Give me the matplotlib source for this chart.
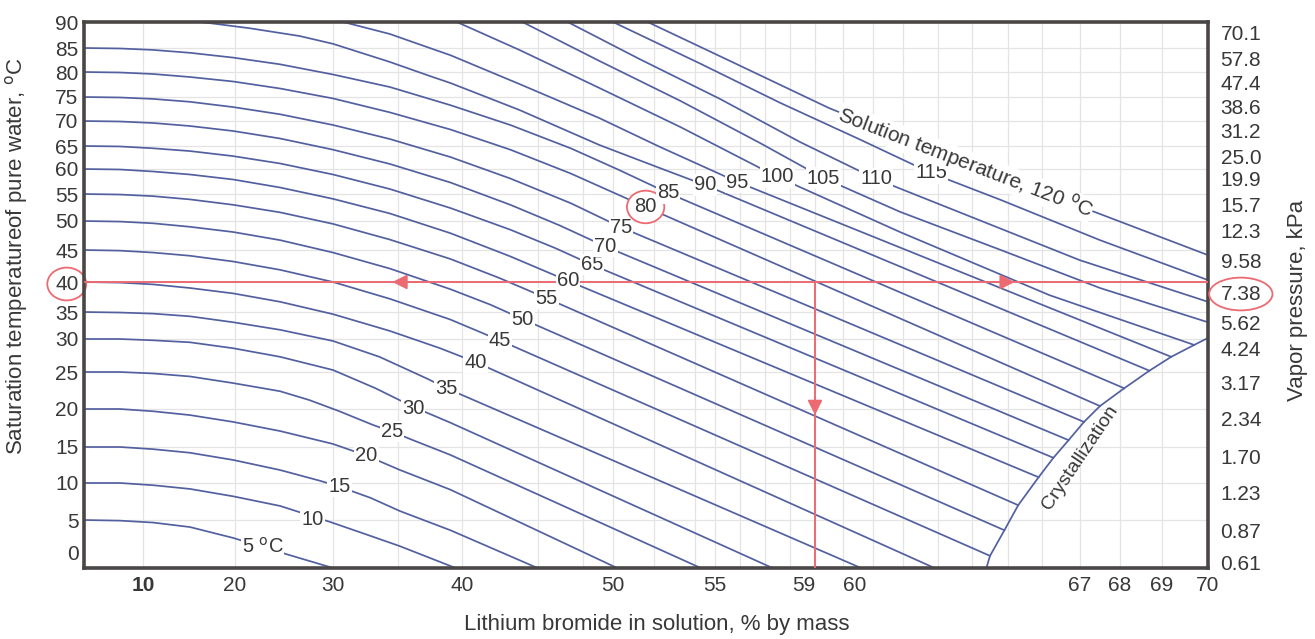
import numpy as np
import matplotlib
matplotlib.use("Agg")
import matplotlib.pyplot as plt
from matplotlib.transforms import ScaledTranslation

plt.rcParams['font.family'] = ['Liberation Sans', 'DejaVu Sans']

# solution temperature of each isotherm, degC
solution_temps = [5, 10, 15, 20, 25, 30, 35, 40, 45, 50, 55, 60,
                  65, 70, 75, 80, 85, 90, 95, 100, 105, 110, 115, 120]

# LiBr in solution (% by mass) along each isotherm
curve_conc = [
    [3.6, 7.5, 11.1, 15.1, 19.8, 22.8, 25.6, 30.0],
    [3.6, 7.5, 11.1, 15.1, 19.8, 24.6, 27.9, 29.7, 32.5, 35.2, 39.5],
    [3.6, 7.5, 11.1, 15.1, 19.8, 24.6, 28.7, 30.5, 32.9, 35.2, 39.1, 45.0],
    [3.6, 7.5, 11.1, 15.1, 19.8, 24.6, 30.0, 32.6, 35.2, 39.1, 50.2],
    [3.6, 7.5, 11.1, 15.1, 19.8, 24.6, 27.6, 30.5, 33.1, 34.6, 36.2, 39.1, 54.3],
    [3.6, 7.5, 11.1, 15.1, 19.8, 24.6, 30.0, 33.3, 36.2, 39.1, 57.3],
    [3.6, 7.5, 11.1, 15.1, 19.8, 24.6, 30.0, 33.6, 37.3, 38.8, 60.6],
    [3.6, 7.5, 11.1, 15.1, 19.8, 24.6, 30.0, 34.4, 38.3, 40.9, 62.9],
    [3.6, 7.5, 11.1, 15.1, 19.8, 24.6, 30.0, 34.4, 39.1, 42.5, 64.5],
    [3.6, 7.5, 11.1, 15.1, 19.8, 24.6, 30.0, 34.4, 39.1, 41.9, 44.0, 64.9],
    [3.6, 7.5, 11.1, 15.1, 19.8, 24.6, 30.0, 34.4, 39.1, 42.5, 45.6, 65.3],
    [3.6, 7.5, 11.1, 15.1, 19.8, 24.6, 30.0, 34.4, 39.1, 43.2, 47.0, 65.9],
    [3.6, 7.5, 11.1, 15.1, 19.8, 24.6, 30.0, 34.4, 39.1, 43.2, 46.2, 48.6, 66.3],
    [3.6, 7.5, 11.1, 15.1, 19.8, 24.6, 30.0, 34.4, 39.1, 43.2, 46.5, 49.5, 66.7],
    [3.6, 7.5, 11.1, 15.1, 19.8, 24.6, 30.0, 34.4, 39.1, 43.2, 47.2, 50.4, 67.1],
    [3.6, 7.5, 11.1, 15.1, 19.8, 24.6, 30.0, 34.4, 39.1, 43.2, 47.2, 51.6, 67.5],
    [3.6, 7.5, 11.1, 15.1, 19.8, 24.6, 30.0, 34.4, 39.1, 43.2, 47.2, 50.3, 52.7, 68.1],
    [16.3, 21.5, 26.6, 30.0, 34.4, 37.5, 39.1, 43.8, 49.1, 52.3, 54.5, 68.7],
    [30.8, 34.4, 37.5, 39.1, 43.8, 49.1, 52.3, 55.9, 69.2],
    [39.6, 43.8, 49.1, 53.3, 57.5, 61.9, 66.2, 69.7],
    [44.0, 49.1, 53.3, 56.8, 59.3, 61.9, 64.8, 67.5, 70.0],
    [47.0, 51.3, 55.2, 58.4, 61.1, 63.6, 67.0, 70.0],
    [50.0, 54.3, 57.6, 60.6, 62.8, 64.8, 67.5, 70.0],
    [51.7, 55.6, 59.5, 63.8, 67.5, 70.0],
]

# saturation temperature of pure water (degC) along each isotherm
curve_tsat = [
    [5.0, 4.9, 4.6, 3.9, 2.2, 0.8, -0.5, -2.5],
    [10.0, 10.0, 9.7, 9.2, 8.2, 6.9, 5.5, 4.7, 2.8, 0.9, -2.5],
    [15.0, 15.0, 14.7, 14.2, 13.2, 11.8, 10.3, 9.5, 8.0, 6.2, 3.4, -2.5],
    [20.0, 20.0, 19.7, 19.2, 18.3, 17.1, 15.4, 13.8, 11.8, 9.1, -2.5],
    [25.0, 25.0, 24.8, 24.4, 23.5, 22.4, 21.2, 19.7, 17.9, 17.0, 15.9, 13.9, -2.5],
    [30.0, 30.0, 29.8, 29.5, 28.6, 27.3, 25.3, 22.8, 20.3, 18.2, -2.5],
    [35.0, 34.9, 34.7, 34.2, 33.1, 31.7, 29.7, 27.3, 24.1, 22.8, -2.5],
    [40.0, 39.9, 39.6, 39.0, 38.1, 36.7, 34.6, 31.5, 28.6, 26.5, -2.5],
    [45.0, 44.9, 44.6, 44.1, 43.2, 41.9, 40.0, 37.2, 33.6, 29.8, -0.6],
    [50.0, 49.9, 49.6, 49.0, 48.1, 46.7, 44.6, 42.1, 38.8, 36.2, 33.7, 3.4],
    [55.0, 54.9, 54.6, 54.0, 53.0, 51.6, 49.5, 46.8, 43.6, 40.6, 37.3, 7.0],
    [60.0, 59.9, 59.5, 58.9, 57.9, 56.3, 54.1, 51.4, 47.9, 44.0, 40.2, 10.8],
    [65.0, 64.9, 64.5, 63.9, 62.8, 61.2, 58.9, 56.0, 52.4, 48.5, 45.3, 42.7, 13.5],
    [70.0, 69.9, 69.6, 69.0, 68.0, 66.5, 64.2, 61.1, 57.3, 53.0, 49.2, 45.6, 15.9],
    [75.0, 74.9, 74.6, 74.0, 72.9, 71.4, 69.2, 66.4, 62.6, 58.1, 53.3, 48.9, 18.3],
    [80.0, 79.9, 79.6, 79.0, 78.1, 76.7, 74.7, 71.8, 68.3, 64.2, 59.1, 52.6, 20.4],
    [85.0, 84.9, 84.6, 84.0, 83.0, 81.6, 79.5, 77.0, 73.3, 69.2, 64.5, 59.8, 55.2, 22.8],
    [90.0, 88.8, 87.3, 85.8, 82.1, 79.2, 77.8, 72.3, 65.2, 60.2, 56.8, 25.2],
    [90.0, 87.7, 85.0, 83.5, 77.6, 70.6, 64.8, 57.4, 27.3],
    [90.0, 84.6, 76.8, 68.8, 58.4, 48.1, 37.8, 29.1],
    [90.0, 82.3, 74.2, 65.6, 58.2, 51.7, 45.0, 39.0, 33.1],
    [90.0, 82.7, 74.6, 65.8, 58.0, 51.7, 43.4, 36.7],
    [90.0, 81.7, 73.8, 66.2, 59.2, 53.9, 46.7, 40.3],
    [90.0, 82.3, 72.7, 61.3, 51.3, 44.2],
]

# crystallization line
cryst_conc = [64.4, 64.5, 64.9, 65.3, 65.9, 66.3, 66.7, 67.1, 67.5, 68.1, 68.7, 69.2, 69.7, 70.0]
cryst_tsat = [-2.5, -0.6, 3.4, 7.0, 10.8, 13.5, 15.9, 18.3, 20.4, 22.8, 25.2, 27.3, 29.1, 30.2]

# worked example: 80 degC solution at 59 % -> 40 degC / 7.38 kPa
example_conc = 59
example_tsat = 40
example_tsol = 80

conc_ticks = [10, 20, 30, 40, 50, 55, 59, 60, 67, 68, 69, 70]
tsat_ticks = [0, 5, 10, 15, 20, 25, 30, 35, 40, 45, 50, 55, 60, 65, 70, 75, 80, 85, 90]
pressure_labels = ['0.61', '0.87', '1.23', '1.70', '2.34', '3.17', '4.24', '5.62',
                   '7.38', '9.58', '12.3', '15.7', '19.9', '25.0', '31.2', '38.6',
                   '47.4', '57.8', '70.1']

# where the isotherm numbers sit on the curves
label_conc = [22.8, 27.9, 30.5, 32.6, 34.6, 36.2, 38.8, 40.9, 42.5, 44.0, 45.6, 47.0,
              48.6, 49.5, 50.4, 51.6, 52.7, 54.5, 55.9, 57.5, 59.3, 61.1, 62.8]
label_tsat = [0.8, 5.1, 9.5, 13.8, 17.0, 20.0, 22.8, 26.5, 29.8, 33.7, 37.3, 40.2,
              42.7, 45.6, 48.9, 52.6, 55.2, 56.8, 57.4, 58.4, 58.2, 58.0, 59.2]

# chart's non-uniform axis scales (scale anchors)
x_anchor_val = [3.6, 10, 20, 30, 40, 50, 55, 59, 60, 61, 62, 63, 64, 65, 66, 67, 68, 69, 70]
x_anchor_pos = [0, 59, 151, 249, 378, 529, 631, 731, 759, 789, 819, 854, 888, 924, 958,
                996, 1036, 1078, 1124]
y_anchor_val = [-2.5, 0, 5, 10, 15, 20, 25, 30, 35, 40, 45, 50, 55, 60, 65, 70, 75, 80, 85, 90]
y_anchor_pos = [0, 16, 48, 85, 121, 159, 196, 229, 256, 286, 318, 347, 374, 399, 422, 447,
                471, 496, 520, 546]


def xf(v):
    return np.interp(v, x_anchor_val, x_anchor_pos)


def xi(v):
    return np.interp(v, x_anchor_pos, x_anchor_val)


def yf(v):
    return np.interp(v, y_anchor_val, y_anchor_pos)


def yi(v):
    return np.interp(v, y_anchor_pos, y_anchor_val)


LINE = '#5360a0'
RED = '#ec6a72'
FRAME = '#4a4646'
TXT = '#383838'

fig = plt.figure(figsize=(13.15, 6.39), dpi=100)
ax = fig.add_axes([84 / 1315, 71 / 639, 1124 / 1315, 546 / 639])
ax.set_xscale('function', functions=(xf, xi))
ax.set_yscale('function', functions=(yf, yi))
ax.set_xlim(3.6, 70)
ax.set_ylim(-2.5, 90)

# background grid
grid_x = [10, 20, 30, 35, 40, 45, 48, 50, 52, 54, 55, 56, 57, 58, 59, 60, 61, 62, 63,
          64, 65, 66, 67, 68, 69]
for g in grid_x:
    ax.axvline(g, color='#e4e4e4', lw=0.9, zorder=0)
for g in tsat_ticks[1:-1]:
    ax.axhline(g, color='#e4e4e4', lw=0.9, zorder=0)

for c, t in zip(curve_conc, curve_tsat):
    ax.plot(c, t, color=LINE, lw=1.25, zorder=2, solid_joinstyle='round')
ax.plot(cryst_conc, cryst_tsat, color=LINE, lw=1.25, zorder=2, solid_joinstyle='round')

# isotherm labels
for i, (lc, lt) in enumerate(zip(label_conc, label_tsat)):
    s = str(solution_temps[i])
    if i == 0:
        s = '5 $^{\\rm o}$C'
    txt = ax.text(lc, lt, s, fontsize=14.5, color=TXT, ha='center', va='center', zorder=4,
                  bbox=dict(boxstyle='square,pad=0.05', fc='white', ec='none'))
    if solution_temps[i] == example_tsol:
        txt.set_bbox(dict(boxstyle='ellipse,pad=0.1', fc='white', ec=RED, lw=1.3))

ax.text(63.8, 61.3, 'Solution temperature, 120 $^{\\rm o}$C', fontsize=15, color=TXT,
        rotation=-21, ha='center', va='center', zorder=4,
        bbox=dict(boxstyle='square,pad=0.0', fc='white', ec='none'))
ax.text(67.0, 13.5, 'Crystallization', fontsize=14, color=TXT, rotation=56,
        ha='center', va='center', zorder=4)

# worked example lines
ax.plot([3.6, 70], [example_tsat, example_tsat], color=RED, lw=1.4, zorder=3)
ax.plot([example_conc, example_conc], [example_tsat, -2.5], color=RED, lw=1.4, zorder=3)
arr = dict(arrowstyle='-|>', color=RED, lw=1.4, mutation_scale=22, shrinkA=0, shrinkB=0)
ax.annotate('', xy=(34.6, example_tsat), xytext=(36.5, example_tsat), arrowprops=arr, zorder=3)
ax.annotate('', xy=(65.2, example_tsat), xytext=(64.6, example_tsat), arrowprops=arr, zorder=3)
ax.annotate('', xy=(example_conc, 19.2), xytext=(example_conc, 21.5), arrowprops=arr, zorder=3)

for sp in ax.spines.values():
    sp.set_linewidth(2.6)
    sp.set_color(FRAME)

ax.set_xticks(conc_ticks)
ax.set_xticklabels([str(v) for v in conc_ticks])
ax.set_yticks(tsat_ticks)
ax.set_yticklabels([str(v) for v in tsat_ticks])
ax.tick_params(length=0, labelsize=15, colors=TXT)
ax.tick_params(axis='y', pad=4)
ax.tick_params(axis='x', pad=6)
ax.xaxis.get_ticklabels()[0].set_fontweight('bold')
ax.xaxis.get_ticklabels()[6].set_horizontalalignment('right')
ax.xaxis.get_ticklabels()[7].set_horizontalalignment('left')
ax.yaxis.get_ticklabels()[tsat_ticks.index(example_tsat)].set_bbox(
    dict(boxstyle='ellipse,pad=0.1', fc='none', ec=RED, lw=1.3))

ax2 = ax.twinx()
ax2.set_yscale('function', functions=(yf, yi))
ax2.set_ylim(-2.5, 90)
ax2.set_yticks(tsat_ticks)
ax2.set_yticklabels(pressure_labels)
ax2.tick_params(length=0, labelsize=15, colors=TXT, pad=9)
shift = ScaledTranslation(0, -0.1, fig.dpi_scale_trans)
for lab in ax2.get_yticklabels():
    lab.set_transform(lab.get_transform() + shift)
ax2.get_yticklabels()[tsat_ticks.index(example_tsat)].set_bbox(
    dict(boxstyle='ellipse,pad=0.1', fc='none', ec=RED, lw=1.3))
for sp in ax2.spines.values():
    sp.set_visible(False)

ax.set_xlabel('Lithium bromide in solution, % by mass', fontsize=16, color=TXT)
ax.xaxis.set_label_coords(0.51, -0.085)
ax.set_ylabel('Saturation temperatureof pure water, $^{\\rm o}$C', fontsize=16, color=TXT)
ax.yaxis.set_label_coords(-0.048, 0.57)
ax2.set_ylabel('Vapor pressure, kPa', fontsize=16, color=TXT)
ax2.yaxis.set_label_coords(1.07, 0.49)

fig.savefig('out.png', dpi=100, facecolor='white')
